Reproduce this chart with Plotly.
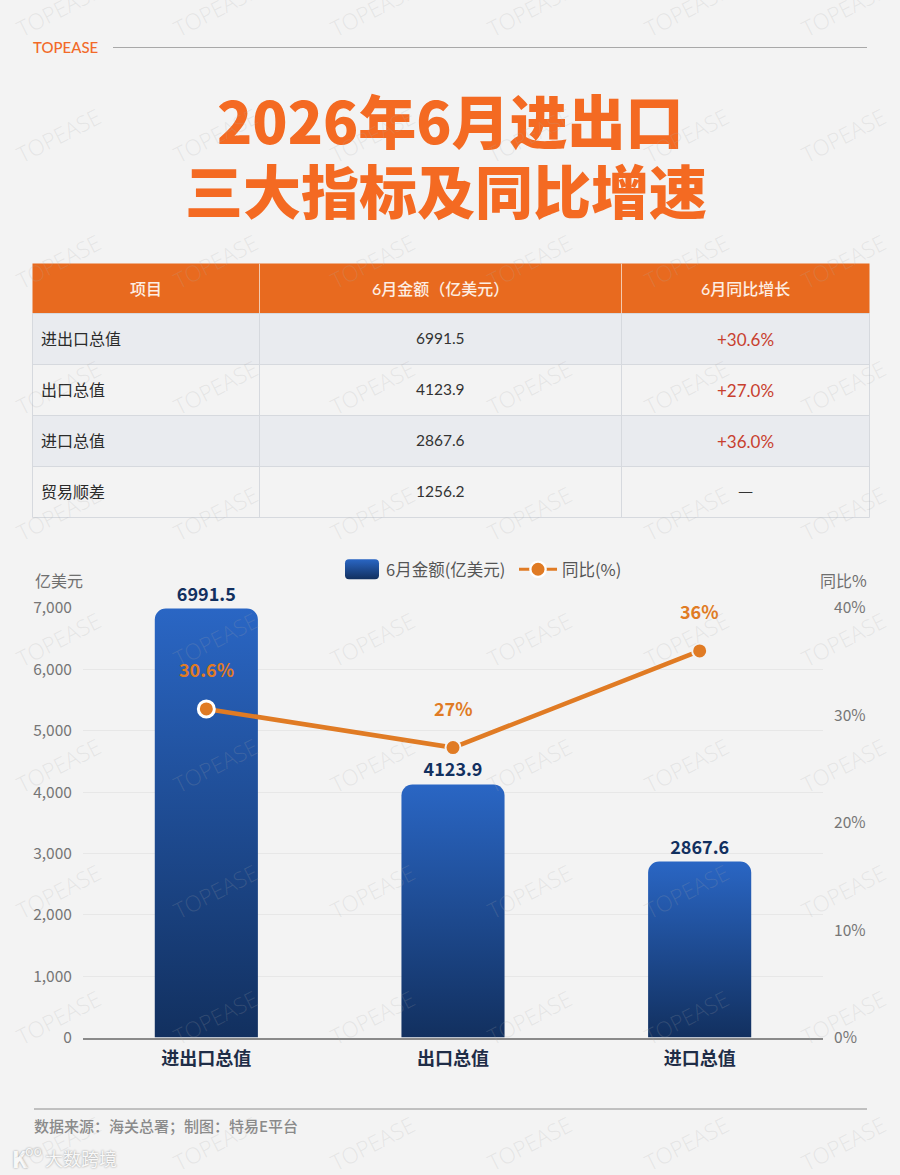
import plotly.graph_objects as go

W, H = 900, 1175
BG = "#f3f3f3"
CJK = "Noto Sans CJK SC"
LATIN = "Lato, Noto Sans CJK SC"
ORANGE = "#e07b24"

# chart data
categories = ["进出口总值", "出口总值", "进口总值"]
amounts = [6991.5, 4123.9, 2867.6]
yoy = [30.6, 27, 36]
left_ticks = [0, 1000, 2000, 3000, 4000, 5000, 6000, 7000]
right_ticks = [0, 10, 20, 30, 40]

# table data
table_header = ["项目", "6月金额（亿美元）", "6月同比增长"]
table_items = ["进出口总值", "出口总值", "进口总值", "贸易顺差"]
table_amounts = ["6991.5", "4123.9", "2867.6", "1256.2"]
table_growth = ["+30.6%", "+27.0%", "+36.0%", "—"]
growth_colors = ["#c8402e", "#c8402e", "#c8402e", "#333333"]
row_fills = ["#e9ebef", "#f3f3f3", "#e9ebef", "#f3f3f3"]

# table geometry in page pixels
col_edges = [32.5, 259.5, 621.5, 869.5]
row_edges = [313.5, 364.5, 415.5, 466.5, 517.5]
header_top = 263.5


def px(x):
    return x / W


def py(y):
    return 1 - y / H


def label(text, x, y, size, color, anchor="left", family=CJK, weight=400, shadow=None, **kw):
    # annotations carry about 2px of padding on each side
    nudge = {"left": -2, "right": 2, "center": 0}[anchor]
    font = dict(family=family, size=size, color=color, weight=weight)
    if shadow:
        font["shadow"] = shadow
    return dict(text=text, x=px(x + nudge), y=py(y), xref="paper", yref="paper", showarrow=False,
                xanchor=anchor, yanchor="middle", font=font, **kw)


def rect(x0, y0, x1, y1, fill):
    return dict(type="rect", xref="paper", yref="paper", x0=px(x0), x1=px(x1), y0=py(y1), y1=py(y0),
                fillcolor=fill, line_width=0, layer="below")


def rule(x0, y0, x1, y1, color, width=1):
    return dict(type="line", xref="paper", yref="paper", x0=px(x0), x1=px(x1), y0=py(y0), y1=py(y1),
                line=dict(color=color, width=width), layer="below")


fig = go.Figure()

# trailing nbsp keeps the legend entries as far apart as in the original
fig.add_trace(go.Bar(
    x=categories, y=amounts, name="6月金额(亿美元)\u00a0",
    marker=dict(color="#1f4a8f", line_width=0),
    text=[f"{v:.1f}" for v in amounts], textposition="outside", cliponaxis=False,
    textfont=dict(family=CJK, size=18, color="#12305f", weight=700),
))

fig.add_trace(go.Scatter(
    x=categories, y=yoy, name="同比(%)", yaxis="y2", mode="lines+markers",
    line=dict(color=ORANGE, width=4.5),
    marker=dict(color=ORANGE, opacity=1, size=[16, 15, 15],
                line=dict(color=["#ffffff", BG, BG], width=[3, 2, 2])),
))

annotations = []
for cat, v in zip(categories, yoy):
    annotations.append(dict(text=f"{v:g}%", x=cat, y=v, xref="x", yref="y2", showarrow=False,
                            yshift=40, font=dict(family=CJK, size=18, color=ORANGE, weight=700)))

logo_shadow = "0 0 2px #8f8f8f"
annotations += [
    label("TOPEASE", 33, 47, 15, "#f26a28", family=LATIN, weight=500),
    label("2026年6月进出口", 451, 119, 58, "#f46a22", "center", weight=900),
    label("三大指标及同比增速", 446, 189, 58, "#f46a22", "center", weight=900),
    label("亿美元", 35, 580, 16, "#6f6f6f"),
    label("同比%", 867, 580, 16, "#6f6f6f", "right"),
    label("数据来源：海关总署；制图：特易E平台", 34, 1125, 15, "#8a8a8a", weight=500),
    label("大数跨境", 45, 1158, 18, "#f8f8f8", shadow=logo_shadow),
    label("K", 12, 1158, 22, "#f8f8f8", weight=900, shadow=logo_shadow),
    label("oo", 25, 1150, 14, "#f8f8f8", shadow=logo_shadow),
]

# table cells
shapes = [rect(col_edges[0], header_top, col_edges[3], row_edges[0], "#e86a1f")]
for i, fill in enumerate(row_fills):
    shapes.append(rect(col_edges[0], row_edges[i], col_edges[3], row_edges[i + 1], fill))
for x in col_edges[1:3]:
    shapes.append(rule(x, header_top, x, row_edges[0], "#f3c9ae"))
for x in col_edges:
    shapes.append(rule(x, row_edges[0], x, row_edges[-1], "#d6d9de"))
for y in row_edges:
    shapes.append(rule(col_edges[0], y, col_edges[3], y, "#d6d9de"))

header_x = [(col_edges[i] + col_edges[i + 1]) / 2 for i in range(3)]
header_mid = (header_top + row_edges[0]) / 2
for x, text in zip(header_x, table_header):
    annotations.append(label(text, x, header_mid, 16, "#fdeee3", "center", family=LATIN, weight=500))
for i in range(4):
    mid = (row_edges[i] + row_edges[i + 1]) / 2
    annotations.append(label(table_items[i], 40.5, mid - 1, 16, "#2b2b2b", family=LATIN))
    annotations.append(label(table_amounts[i], header_x[1], mid - 1, 15.5, "#333333", "center", family=LATIN))
    is_dash = table_growth[i] == "—"
    annotations.append(label(table_growth[i], header_x[2], mid - 3 if is_dash else mid, 17, growth_colors[i],
                             "center", family=CJK if is_dash else LATIN))

shapes.append(rule(113, 47.5, 867, 47.5, "#a8a8a8"))
shapes.append(rule(34, 1109, 867, 1109, "#8c8c8c"))

# background watermark grid
for row in range(10):
    for col in range(6):
        annotations.append(label("TOPEASE", 58 + 157 * col, 9 + 126 * row, 22,
                                 "rgba(170,170,170,0.2)", "center", family="Open Sans", weight=300,
                                 textangle=-27))

fig.update_layout(
    width=W, height=H, margin=dict(l=0, r=0, t=0, b=0, autoexpand=False),
    paper_bgcolor=BG, plot_bgcolor=BG,
    bargap=0.582, barcornerradius=11,
    annotations=annotations, shapes=shapes,
    legend=dict(orientation="h", x=px(338), y=py(552), xanchor="left", yanchor="top",
                itemwidth=38, bgcolor="rgba(0,0,0,0)", traceorder="normal",
                font=dict(family=CJK, size=16.5, color="#555555")),
    xaxis=dict(domain=[px(83), px(823)], showgrid=False, showline=True, linecolor="#8a8a8a",
               linewidth=1.5, ticks="outside", ticklen=4, tickcolor="rgba(0,0,0,0)", zeroline=False,
               tickfont=dict(family=CJK, size=18, color="#1f2d47", weight=700)),
    yaxis=dict(domain=[py(1037.5), py(608)], range=[0, 7000], tickvals=left_ticks, tickformat=",d",
               gridcolor="#e7e7e7", gridwidth=1, zeroline=False, ticks="outside", ticklen=7,
               tickcolor="rgba(0,0,0,0)", tickfont=dict(family=CJK, size=15.5, color="#767676")),
    yaxis2=dict(overlaying="y", side="right", range=[0, 40], tickvals=right_ticks,
                ticktext=[f"{v}%" for v in right_ticks],
                showgrid=False, zeroline=False, ticks="outside", ticklen=7,
                tickcolor="rgba(0,0,0,0)", tickfont=dict(family=CJK, size=15.5, color="#767676")),
)

# plotly bars have no gradient fill, so add one to the svg after drawing
post_js = """
document.body.style.margin = 0;
var gd = document.getElementById('{plot_id}');
function paintBars() {
  var svg = gd.querySelector('svg.main-svg');
  if (!document.getElementById('barGrad')) {
    var ns = 'http://www.w3.org/2000/svg';
    var defs = svg.querySelector('defs');
    var g = document.createElementNS(ns, 'linearGradient');
    g.id = 'barGrad'; g.setAttribute('x1', 0); g.setAttribute('x2', 0);
    g.setAttribute('y1', 0); g.setAttribute('y2', 1);
    [['0', '#2a66c4'], ['1', '#12305f']].forEach(function (s) {
      var st = document.createElementNS(ns, 'stop');
      st.setAttribute('offset', s[0]); st.setAttribute('stop-color', s[1]);
      g.appendChild(st);
    });
    defs.appendChild(g);
  }
  gd.querySelectorAll('.barlayer .point path').forEach(function (p) {
    p.style.fill = 'url(#barGrad)';
  });
  var items = gd.querySelectorAll('.legend .traces');
  if (items.length) {
    items[0].querySelectorAll('.legendpoints path').forEach(function (p) {
      p.setAttribute('d', 'M-13,-10H13A4,4 0 0 1 17,-6V6A4,4 0 0 1 13,10H-13A4,4 0 0 1 -17,6V-6A4,4 0 0 1 -13,-10Z');
      p.style.fill = 'url(#barGrad)';
    });
    items[1].querySelectorAll('.legendlines path').forEach(function (p) {
      p.style.strokeWidth = '3px';
    });
    items[1].querySelectorAll('.legendpoints .scatterpts path').forEach(function (p) {
      p.style.stroke = '#f3f3f3';
      p.style.strokeWidth = '3px';
    });
  }
}
gd.on('plotly_afterplot', paintBars);
paintBars();
"""

fig.write_html("out.html", post_script=post_js, config={"displayModeBar": False})
